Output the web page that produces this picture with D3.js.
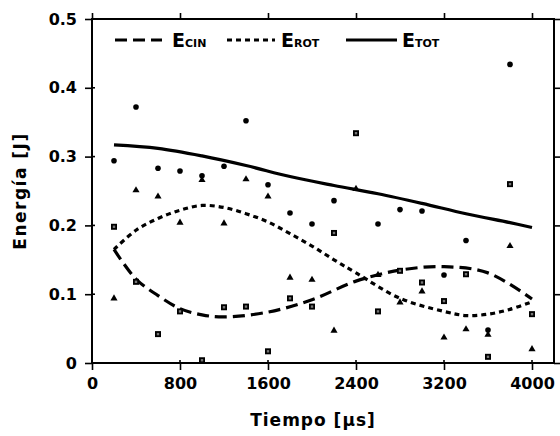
<!DOCTYPE html>
<html>
<head>
<meta charset="utf-8">
<script src="https://cdn.jsdelivr.net/npm/d3@7"></script>
<style>
  html, body { margin: 0; padding: 0; background: #fff; }
  svg { display: block; }
  text { font-family: "DejaVu Sans", sans-serif; font-weight: bold; fill: #000; }
</style>
</head>
<body>
<svg id="chart" width="560" height="436"></svg>
<script>
// Sample times (µs) for the scatter series
const times = [200, 400, 600, 800, 1000, 1200, 1400, 1600, 1800, 2000,
               2200, 2400, 2600, 2800, 3000, 3200, 3400, 3600, 3800, 4000];

// Measured energies (J); null where no point is drawn
const circles   = [0.294, 0.372, 0.283, 0.279, 0.272, 0.286, 0.352, 0.259, 0.218, 0.202,
                   0.236, null, 0.202, 0.223, 0.221, 0.128, 0.178, 0.048, 0.434, null];
const triangles = [0.094, 0.251, 0.242, 0.204, 0.266, 0.203, 0.267, 0.242, 0.124, 0.121,
                   0.047, 0.253, 0.128, 0.088, 0.104, 0.037, 0.049, 0.041, 0.170, 0.020];
const squares   = [0.198, 0.118, 0.042, 0.075, 0.004, 0.081, 0.082, 0.017, 0.094, 0.082,
                   0.189, 0.334, 0.075, 0.134, 0.117, 0.090, 0.129, 0.009, 0.260, 0.071];

// Fitted curves
const cinT = [200, 400, 600, 800, 1000, 1200, 1600, 2000, 2400, 2800, 3200, 3600, 4000];
const cinE = [0.165, 0.122, 0.098, 0.079, 0.070, 0.067, 0.074, 0.092, 0.119, 0.135, 0.140, 0.131, 0.093];

const rotT = [200, 400, 600, 800, 1000, 1200, 1400, 1600, 1800, 2000, 2200, 2400, 2800, 3200, 3400, 3600, 3800, 4000];
const rotE = [0.165, 0.193, 0.210, 0.222, 0.229, 0.226, 0.217, 0.205, 0.188, 0.170, 0.150, 0.131, 0.094, 0.075, 0.069, 0.071, 0.078, 0.089];

const totT = [200, 600, 1000, 1400, 1800, 2200, 2600, 3000, 3400, 3800, 4000];
const totE = [0.317, 0.312, 0.301, 0.287, 0.271, 0.258, 0.246, 0.232, 0.217, 0.204, 0.197];

// Axis ticks
const xTicks = [0, 800, 1600, 2400, 3200, 4000];
const yTicks = [0, 0.1, 0.2, 0.3, 0.4, 0.5];

const svg = d3.select("#chart");
const x = d3.scaleLinear().domain([0, 4200]).range([92, 554]);
const y = d3.scaleLinear().domain([0, 0.5]).range([363, 19]);

// Frame
svg.append("rect")
  .attr("x", x(0)).attr("y", y(0.5))
  .attr("width", x(4200) - x(0)).attr("height", y(0) - y(0.5))
  .attr("fill", "none").attr("stroke", "#000").attr("stroke-width", 2);

function styleAxis(g) {
  g.select(".domain").remove();
  g.selectAll("line").attr("stroke", "#000").attr("stroke-width", 1.6);
  g.selectAll("text").style("font-size", "16px").style("font-family", "DejaVu Sans").style("font-weight", "bold");
}

const yFmt = d => d === 0 ? "0" : d3.format(".1f")(d);

svg.append("g").attr("transform", `translate(0,${y(0)})`)
  .call(d3.axisBottom(x).tickValues(xTicks).tickSize(7).tickPadding(8).tickFormat(d3.format("d")))
  .call(styleAxis);
svg.append("g").attr("transform", `translate(${x(0)},0)`)
  .call(d3.axisLeft(y).tickValues(yTicks).tickSize(7).tickPadding(8).tickFormat(yFmt))
  .call(styleAxis);
svg.append("g").attr("transform", `translate(0,${y(0.5)})`)
  .call(d3.axisTop(x).tickValues(xTicks).tickSize(6).tickFormat(""))
  .call(styleAxis);
svg.append("g").attr("transform", `translate(${x(4200)},0)`)
  .call(d3.axisRight(y).tickValues(yTicks).tickSize(6).tickFormat(""))
  .call(styleAxis);

// Inner half of the crossing ticks on left and bottom
svg.append("g").selectAll("line").data(yTicks).join("line")
  .attr("x1", x(0)).attr("x2", x(0) + 3)
  .attr("y1", d => y(d)).attr("y2", d => y(d))
  .attr("stroke", "#000").attr("stroke-width", 1.6);
svg.append("g").selectAll("line").data(xTicks).join("line")
  .attr("x1", d => x(d)).attr("x2", d => x(d))
  .attr("y1", y(0)).attr("y2", y(0) - 3)
  .attr("stroke", "#000").attr("stroke-width", 1.6);

// Axis titles
svg.append("text")
  .attr("x", 313).attr("y", 426)
  .attr("text-anchor", "middle")
  .style("font-size", "17px").style("letter-spacing", "1px")
  .text("Tiempo [µs]");
svg.append("text")
  .attr("transform", `translate(26,${(y(0) + y(0.5)) / 2}) rotate(-90)`)
  .attr("text-anchor", "middle")
  .style("font-size", "17px").style("letter-spacing", "1.5px")
  .text("Energía [J]");

// Curves
const line = d3.line().x(d => x(d[0])).y(d => y(d[1])).curve(d3.curveCatmullRom.alpha(0.5));
const curves = [
  { t: cinT, e: cinE, dash: "12,6" },
  { t: rotT, e: rotE, dash: "5,4" },
  { t: totT, e: totE, dash: null }
];
curves.forEach(c => {
  svg.append("path")
    .datum(d3.zip(c.t, c.e))
    .attr("d", line)
    .attr("fill", "none").attr("stroke", "#000").attr("stroke-width", 3.2)
    .attr("stroke-dasharray", c.dash);
});

// Scatter points
function pts(vals) {
  return times.map((t, i) => [t, vals[i]]).filter(d => d[1] !== null);
}
svg.append("g").selectAll("circle").data(pts(circles)).join("circle")
  .attr("cx", d => x(d[0])).attr("cy", d => y(d[1])).attr("r", 2.8).attr("fill", "#000");
svg.append("g").selectAll("path").data(pts(triangles)).join("path")
  .attr("transform", d => `translate(${x(d[0])},${y(d[1])})`)
  .attr("d", d3.symbol(d3.symbolTriangle, 22)).attr("fill", "#000");
const sq = svg.append("g").selectAll("g").data(pts(squares)).join("g")
  .attr("transform", d => `translate(${x(d[0])},${y(d[1])})`);
sq.append("rect").attr("x", -3).attr("y", -3).attr("width", 6).attr("height", 6).attr("fill", "#000");
sq.append("rect").attr("x", -1.2).attr("y", -1.2).attr("width", 2.4).attr("height", 2.4).attr("fill", "#777");

// Legend
const legend = [
  { x1: 115, x2: 162, dash: "12,6", tx: 172, sub: "CIN" },
  { x1: 227, x2: 275, dash: "5,4", tx: 281, sub: "ROT" },
  { x1: 346, x2: 397, dash: null, tx: 402, sub: "TOT" }
];
legend.forEach(l => {
  svg.append("line")
    .attr("x1", l.x1).attr("x2", l.x2).attr("y1", 40).attr("y2", 40)
    .attr("stroke", "#000").attr("stroke-width", 3).attr("stroke-dasharray", l.dash);
  const t = svg.append("text").attr("x", l.tx).attr("y", 47).style("font-size", "19px");
  t.append("tspan").text("E");
  t.append("tspan").style("font-size", "11px").text(l.sub);
});
</script>
</body>
</html>
